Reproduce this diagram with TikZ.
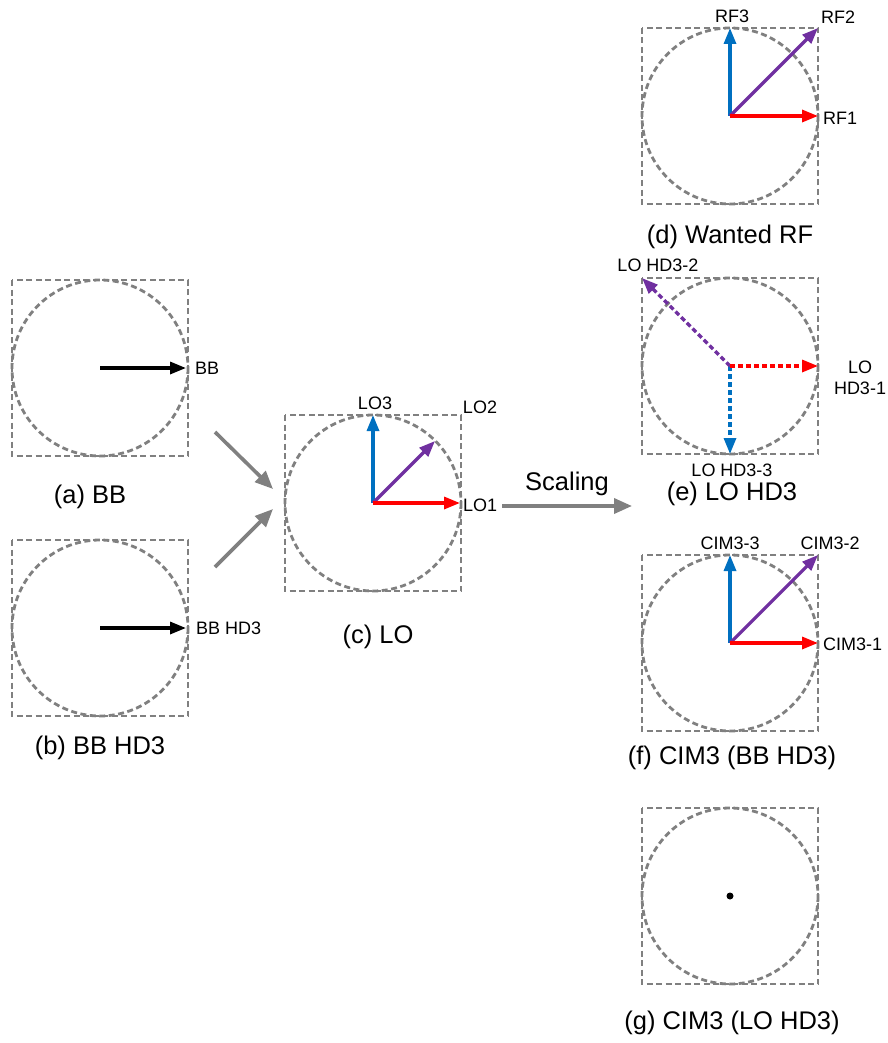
\documentclass[tikz,border=0pt]{standalone}
\usepackage{fontspec}
\setmainfont{Liberation Sans}
\usetikzlibrary{arrows.meta,calc}
\definecolor{framegray}{RGB}{128,128,128}
\definecolor{vblue}{RGB}{0,112,192}
\definecolor{vred}{RGB}{255,0,0}
\definecolor{vpurple}{RGB}{112,48,160}
\newcommand{\phasorframe}[1]{%
  \draw[frame] ($(#1)+(-88,-88)$) rectangle ($(#1)+(88,88)$);
  \draw[frame] (#1) circle (88);}
\begin{document}
\begin{tikzpicture}[x=1pt,y=-1pt,
  frame/.style={draw=framegray, line width=2.8pt, dash pattern=on 6pt off 3.5pt},
  vec/.style={line width=3.2pt, -{Triangle[length=16pt,width=12pt]}},
  dvec/.style={vec, dash pattern=on 5pt off 3pt},
  lbl/.style={inner sep=0pt, font=\fontsize{18}{21}\selectfont},
  captext/.style={inner sep=0pt, font=\fontsize{25.5}{28}\selectfont},
  flow/.style={draw=framegray, line width=3.6pt, -{Triangle[length=18pt,width=15pt]}}]
\useasboundingbox (0,0) rectangle (887,1043);

% panel origins
\coordinate (oa) at (100,368);
\coordinate (ob) at (100,628);
\coordinate (oc) at (373,503);
\coordinate (od) at (730,116);
\coordinate (oe) at (730,366);
\coordinate (of) at (730,643);
\coordinate (og) at (730,896);

\foreach \o in {oa,ob,oc,od,oe,of,og} {\phasorframe{\o}}

% (a) BB
\coordinate (a1) at (186,368);
\draw[vec, black] (oa) -- (a1);
\node[lbl, anchor=west] (la1) at (195,368) {BB};
\node[captext] (capa) at (90,497) {(a) BB};

% (b) BB HD3
\coordinate (b1) at (186,628);
\draw[vec, black] (ob) -- (b1);
\node[lbl, anchor=west] (lb1) at (196,628) {BB HD3};
\node[captext] (capb) at (100,748) {(b) BB HD3};

% (c) LO
\coordinate (c1) at (460,503);
\coordinate (c2) at (435,441);
\coordinate (c3) at (373,415);
\draw[vec, vblue] (oc) -- (c3);
\draw[vec, vpurple] (oc) -- (c2);
\draw[vec, vred] (oc) -- (c1);
\node[lbl] (lc3) at (375,403) {LO3};
\node[lbl] (lc2) at (480,407) {LO2};
\node[lbl, anchor=west] (lc1) at (463,505) {LO1};
\node[captext] (capc) at (378,637) {(c) LO};

% (d) Wanted RF
\coordinate (d1) at (818,116);
\coordinate (d2) at (818,28);
\coordinate (d3) at (730,28);
\draw[vec, vblue] (od) -- (d3);
\draw[vec, vpurple] (od) -- (d2);
\draw[vec, vred] (od) -- (d1);
\node[lbl] (ld3) at (732,16) {RF3};
\node[lbl] (ld2) at (838,17) {RF2};
\node[lbl, anchor=west] (ld1) at (823,118) {RF1};
\node[captext] (capd) at (730,237) {(d) Wanted RF};

% (e) LO HD3
\coordinate (e1) at (818,366);
\coordinate (e2) at (642,278);
\coordinate (e3) at (730,454);
\draw[dvec, vblue] (oe) -- (e3);
\draw[dvec, vpurple] (oe) -- (e2);
\draw[dvec, vred] (oe) -- (e1);
\node[lbl] (le2) at (658,265) {LO HD3-2};
\node[lbl, align=center] (le1) at (860,378) {LO\\HD3-1};
\node[lbl] (le3) at (732,470) {LO HD3-3};
\node[captext] (cape) at (732,494) {(e) LO HD3};

% (f) CIM3 (BB HD3)
\coordinate (f1) at (818,643);
\coordinate (f2) at (818,555);
\coordinate (f3) at (730,555);
\draw[vec, vblue] (of) -- (f3);
\draw[vec, vpurple] (of) -- (f2);
\draw[vec, vred] (of) -- (f1);
\node[lbl] (lf3) at (730,543) {CIM3-3};
\node[lbl] (lf2) at (830,543) {CIM3-2};
\node[lbl, anchor=west] (lf1) at (823,644) {CIM3-1};
\node[captext] (capf) at (732,758) {(f) CIM3 (BB HD3)};

% (g) CIM3 (LO HD3)
\fill[black] (og) circle (3.5);
\node[captext] (capg) at (732,1023) {(g) CIM3 (LO HD3)};

% signal flow between panels
\coordinate (fa) at (215,432);
\coordinate (fac) at (273,489);
\coordinate (fb) at (215,567);
\coordinate (fbc) at (273,509);
\coordinate (fs) at (502,506);
\coordinate (fse) at (632,506);
\draw[flow] (fa) -- (fac);
\draw[flow] (fb) -- (fbc);
\draw[flow] (fs) -- node[captext, above=8pt] (scl) {Scaling} (fse);
\end{tikzpicture}
\end{document}
